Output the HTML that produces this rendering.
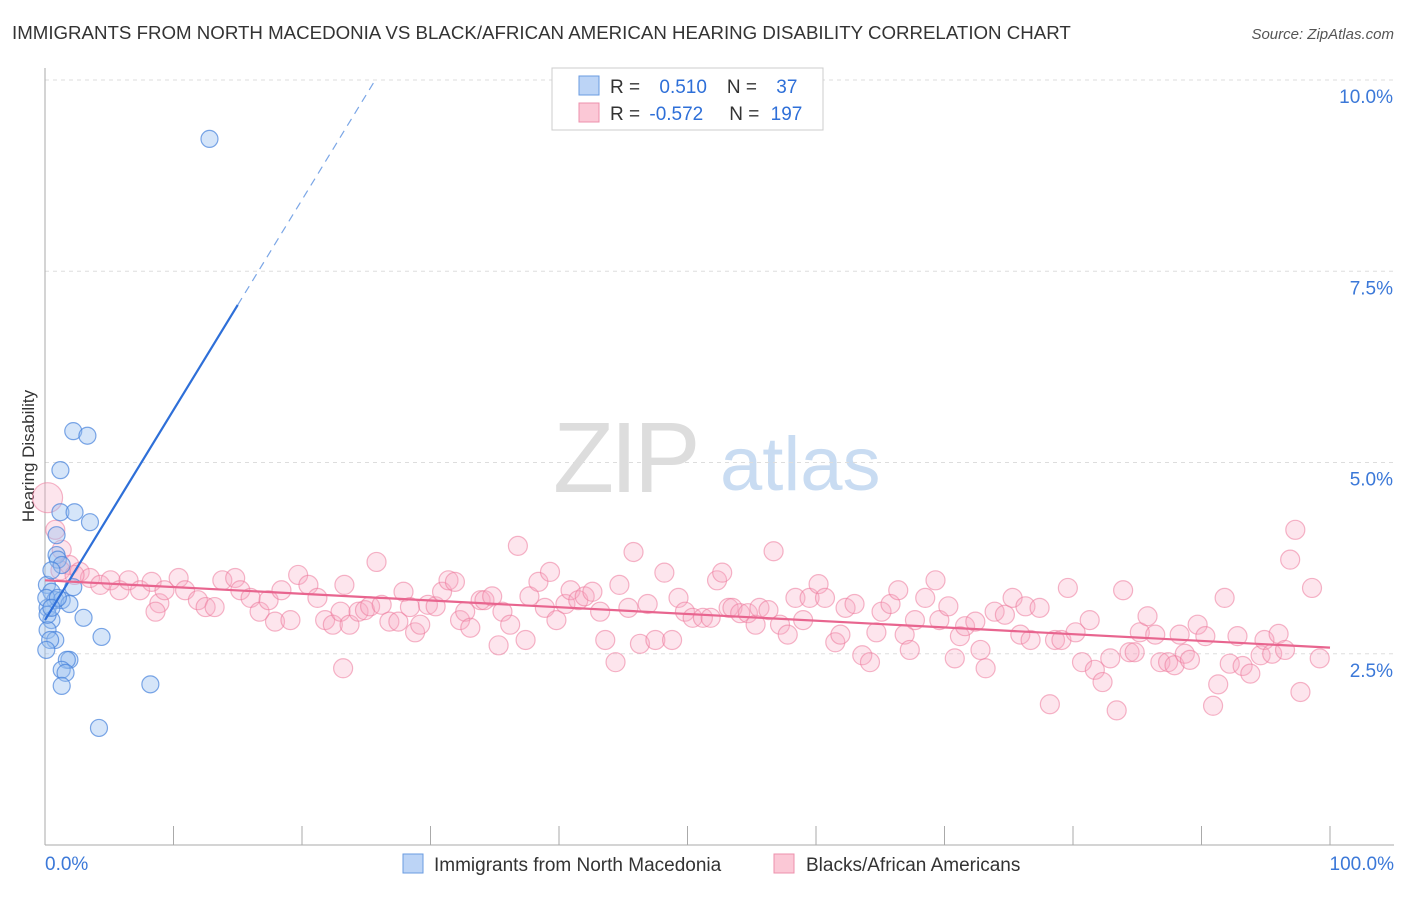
<!DOCTYPE html>
<html><head><meta charset="utf-8"><style>
body{margin:0;background:#fff;font-family:"Liberation Sans",sans-serif;}
svg text{font-family:"Liberation Sans",sans-serif;}
</style></head><body>
<svg id="chart" width="1406" height="892" xmlns="http://www.w3.org/2000/svg">
<text x="12" y="39" font-size="18.7" fill="#333">IMMIGRANTS FROM NORTH MACEDONIA VS BLACK/AFRICAN AMERICAN HEARING DISABILITY CORRELATION CHART</text>
<text x="1394" y="39" font-size="15" fill="#555" font-style="italic" text-anchor="end">Source: ZipAtlas.com</text>
<text transform="translate(34,456) rotate(-90)" font-size="17" fill="#333" text-anchor="middle">Hearing Disability</text>
<g>
<text x="553" y="492" font-size="100" fill="#ddd" font-family="Liberation Serif" letter-spacing="-4">ZIP</text>
<text x="720" y="490" font-size="76" fill="#c9dcf2">atlas</text></g>
<g id="grid"></g><g id="axes"></g><g id="pink"></g><g id="blue"></g><g id="lines"></g>
<g>
<rect x="552" y="68" width="271" height="62" fill="#fff" stroke="#ccc"/>
<rect x="579" y="76" width="20" height="19" fill="#bcd4f6" stroke="#6a9be0"/>
<rect x="579" y="103" width="20" height="19" fill="#fbc8d6" stroke="#ee90ac"/>
<text x="610" y="93" font-size="19" fill="#333">R = <tspan fill="#2e6fd8" dx="14">0.510</tspan><tspan dx="20" fill="#333">N = </tspan><tspan fill="#2e6fd8" dx="14">37</tspan></text>
<text x="610" y="120" font-size="19" fill="#333">R = <tspan fill="#2e6fd8" dx="4">-0.572</tspan><tspan dx="26" fill="#333">N = </tspan><tspan fill="#2e6fd8" dx="6">197</tspan></text>
</g>
<g>
<rect x="403" y="854" width="20" height="19" fill="#bcd4f6" stroke="#6a9be0"/>
<text x="434" y="871" font-size="19" fill="#333">Immigrants from North Macedonia</text>
<rect x="774" y="854" width="20" height="19" fill="#fbc8d6" stroke="#ee90ac"/>
<text x="806" y="871" font-size="19" fill="#333">Blacks/African Americans</text>
</g>
</svg>
<script>
const blueX=[12.8,2.2,3.3,1.2,1.2,2.3,3.5,0.9,0.9,1.0,1.3,0.15,2.2,0.5,0.8,1.3,0.2,1.9,3.0,0.5,0.2,0.8,4.4,0.4,1.9,1.7,1.3,1.6,1.3,8.2,4.2,0.5,0.1,0.2,1.0,0.5,0.1];
const blueY=[9.23,5.41,5.35,4.90,4.35,4.35,4.22,4.05,3.79,3.73,3.66,3.40,3.37,3.31,3.20,3.20,3.10,3.15,2.97,2.94,2.81,2.68,2.72,2.68,2.42,2.42,2.29,2.25,2.08,2.10,1.53,3.59,3.23,3.01,3.23,3.10,2.55];
const pinkX=[0.2,0.8,1.3,1.9,2.7,3.5,4.3,5.1,5.8,6.5,7.4,8.3,8.9,9.3,10.4,10.9,11.9,12.5,13.2,13.8,14.8,15.2,16.0,16.7,17.4,17.9,18.4,19.1,19.7,20.5,21.2,21.8,22.4,23.0,23.3,23.7,24.4,24.9,25.3,25.8,26.2,26.8,27.5,27.9,28.4,28.8,29.2,29.8,30.4,30.9,31.4,31.9,32.3,32.7,33.1,33.9,34.2,34.8,35.3,35.6,36.2,36.8,37.4,37.7,38.4,38.9,39.3,39.8,40.5,40.9,41.5,42.0,42.6,43.2,43.6,44.4,44.7,45.4,45.8,46.3,46.9,47.5,48.2,48.8,49.3,49.8,50.4,51.2,51.8,52.3,52.7,53.2,53.5,54.1,54.7,55.3,55.6,56.3,56.7,57.2,57.8,58.4,59.0,59.5,60.2,60.7,61.5,61.9,62.3,63.0,63.6,64.2,64.7,65.1,65.8,66.4,66.9,67.3,67.7,68.5,69.3,69.6,70.3,70.8,71.2,71.6,72.4,72.8,73.2,73.9,74.7,75.3,75.9,76.3,76.7,77.4,78.2,78.6,79.1,79.6,80.2,80.7,81.3,81.7,82.3,82.9,83.4,83.9,84.4,84.8,85.2,85.8,86.4,86.8,87.4,87.9,88.3,88.7,89.1,89.7,90.3,90.9,91.3,91.8,92.2,92.8,93.2,93.8,94.6,94.9,95.5,96.0,96.5,96.9,97.3,97.7,98.6,99.2,8.6,23.2,1.2,2.3];
const pinkY=[4.54,4.12,3.86,3.66,3.57,3.49,3.40,3.46,3.33,3.46,3.33,3.44,3.16,3.33,3.49,3.33,3.20,3.11,3.11,3.46,3.49,3.33,3.23,3.05,3.20,2.92,3.33,2.94,3.53,3.40,3.23,2.94,2.88,3.05,3.40,2.88,3.05,3.07,3.12,3.70,3.14,2.92,2.92,3.31,3.11,2.78,2.88,3.14,3.12,3.31,3.46,3.44,2.94,3.05,2.84,3.20,3.20,3.25,2.61,3.05,2.88,3.91,2.68,3.25,3.44,3.10,3.57,2.94,3.15,3.33,3.20,3.25,3.31,3.05,2.68,2.39,3.40,3.10,3.83,2.63,3.15,2.68,3.56,2.68,3.23,3.05,2.97,2.97,2.97,3.46,3.56,3.10,3.10,3.03,3.03,2.88,3.10,3.07,3.84,2.88,2.75,3.23,2.94,3.23,3.41,3.23,2.65,2.75,3.10,3.15,2.48,2.39,2.78,3.05,3.15,3.33,2.75,2.55,2.94,3.23,3.46,2.94,3.12,2.44,2.73,2.86,2.92,2.55,2.31,3.05,3.01,3.23,2.75,3.12,2.68,3.10,1.84,2.68,2.68,3.36,2.78,2.39,2.94,2.29,2.13,2.44,1.76,3.33,2.52,2.52,2.78,2.99,2.75,2.39,2.39,2.35,2.75,2.50,2.42,2.88,2.73,1.82,2.10,3.23,2.37,2.73,2.34,2.24,2.48,2.68,2.50,2.76,2.55,3.73,4.12,2.00,3.36,2.44,3.05,2.31,3.59,3.53];
const yTicks=[2.5,5.0,7.5,10.0];
const yTickLabels=["2.5%","5.0%","7.5%","10.0%"];
const xTicks=[0,10,20,30,40,50,60,70,80,90,100];
const blueTrend=[0,2.94,15,7.06,25.7,10.0];
const pinkTrend=[0,3.46,100,2.58];
const NS="http://www.w3.org/2000/svg";
const sx=v=>45+v*12.85, sy=v=>845-v*76.5;
function mk(parent,tag,attrs){const e=document.createElementNS(NS,tag);for(const k in attrs)e.setAttribute(k,attrs[k]);document.getElementById(parent).appendChild(e);return e;}
yTicks.forEach((t,i)=>{
 const g=mk('grid','line',{x1:45,x2:1394,y1:sy(t),y2:sy(t),stroke:'#ddd','stroke-dasharray':'4,4'});
 
 
 const l=mk('axes','text',{x:1393,y:sy(t)+23,'font-size':19,fill:'#3b78d8','text-anchor':'end'});
 l.textContent=yTickLabels[i];
 
 
});
const ax=mk('axes','line',{x1:45,x2:45,y1:68,y2:845,stroke:'#aaa'});


const bx=mk('axes','line',{x1:45,x2:1394,y1:845,y2:845,stroke:'#aaa'});


xTicks.forEach(t=>{const e=mk('axes','line',{x1:sx(t),x2:sx(t),y1:826,y2:845,stroke:'#aaa'});
 
 });
[[0,"0.0%",'start',45],[100,"100.0%",'end',1394]].forEach(a=>{const e=mk('axes','text',{x:a[3],y:870,'font-size':19,fill:'#3b78d8','text-anchor':a[2]});e.textContent=a[1];
 
 });
pinkX.forEach((x,i)=>{const c=mk('pink','circle',{cx:sx(x),cy:sy(pinkY[i]),r:i==0?15:9.5,fill:'rgba(248,170,195,0.3)',stroke:'rgba(236,120,155,0.55)','stroke-width':1.2});
 
 });
blueX.forEach((x,i)=>{const c=mk('blue','circle',{cx:sx(x),cy:sy(blueY[i]),r:8.5,fill:'rgba(150,190,240,0.4)',stroke:'rgba(70,130,220,0.7)','stroke-width':1.2});
 
 });
const b1=mk('lines','line',{x1:sx(blueTrend[0]),y1:sy(blueTrend[1]),x2:sx(blueTrend[2]),y2:sy(blueTrend[3]),stroke:'#2e6fd8','stroke-width':2.2});


const b2=mk('lines','line',{x1:sx(blueTrend[2]),y1:sy(blueTrend[3]),x2:sx(blueTrend[4]),y2:sy(blueTrend[5]),stroke:'#7ba6e6','stroke-width':1.2,'stroke-dasharray':'8,6'});


const p1=mk('lines','line',{x1:sx(pinkTrend[0]),y1:sy(pinkTrend[1]),x2:sx(pinkTrend[2]),y2:sy(pinkTrend[3]),stroke:'#e8658f','stroke-width':2.2});


</script>
</body></html>
